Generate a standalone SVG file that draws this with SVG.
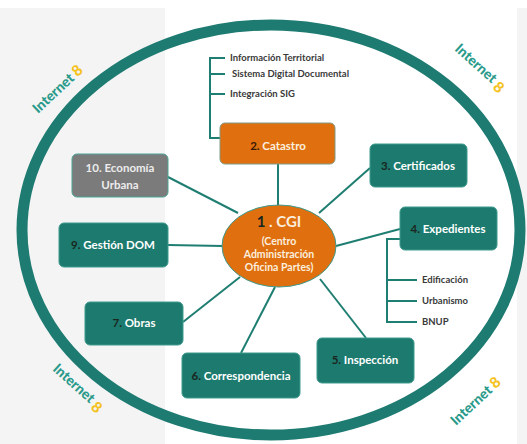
<svg xmlns="http://www.w3.org/2000/svg" width="527" height="444" viewBox="0 0 527 444">
  <defs>
    <style>
      .box { fill: #1c7a6e; stroke: #3f9a8d; stroke-width: 1; }
      .lbl { font-family: Lato, "Liberation Sans", sans-serif; font-weight: bold; font-size: 11.5px; fill: #ffffff; text-anchor: middle; }
      .num { fill: #1b2620; }
      .sub { font-family: Lato, "Liberation Sans", sans-serif; font-weight: bold; font-size: 9.5px; fill: #3a3a3a; }
      .link { stroke: #1f7e72; stroke-width: 2; fill: none; }
      .net { font-family: Lato, "Liberation Sans", sans-serif; font-weight: 900; font-size: 14px; fill: #2a9a8b; }
      .eight { fill: #f4c21f; font-size: 15px; }
    </style>
  </defs>

  <!-- backdrop -->
  <rect x="0" y="0" width="527" height="444" fill="#ffffff"/>
  <rect x="0" y="8" width="165" height="436" fill="#f4f4f4"/>
  <rect x="517" y="8" width="10" height="436" fill="#f4f4f4"/>

  <!-- network ring -->
  <ellipse id="ring" cx="271" cy="230" rx="249" ry="205" fill="none" stroke="#1d7b71" stroke-width="11"/>

  <!-- Internet labels along the ring -->
  <g id="internet-labels">
    <text class="net" transform="translate(38,114) rotate(-43)">Internet <tspan class="eight">8</tspan></text>
    <text class="net" transform="translate(454,50) rotate(42)">Internet <tspan class="eight" dy="3">8</tspan></text>
    <text class="net" transform="translate(52,370) rotate(42)">Internet <tspan class="eight" dy="3">8</tspan></text>
    <text class="net" transform="translate(456,426) rotate(-43)">Internet <tspan class="eight">8</tspan></text>
  </g>

  <!-- connectors -->
  <g id="connectors">
    <line class="link" x1="278" y1="164" x2="278" y2="206"/>
    <line class="link" x1="319" y1="213" x2="370" y2="168"/>
    <line class="link" x1="336" y1="246" x2="400" y2="229"/>
    <line class="link" x1="320" y1="279" x2="366" y2="338"/>
    <line class="link" x1="275" y1="287" x2="241" y2="353"/>
    <line class="link" x1="240" y1="277" x2="183" y2="322"/>
    <line class="link" x1="168" y1="245" x2="223" y2="246"/>
    <line class="link" x1="168" y1="177" x2="238" y2="213"/>
    <!-- Catastro sub-items -->
    <path class="link" d="M220,138 H210 V58 H225 M210,74 H225 M210,94 H225"/>
    <!-- Expedientes sub-items -->
    <path class="link" d="M400,239 H387 V322 H417 M387,280 H417 M387,301 H417"/>
  </g>

  <!-- sub-item labels -->
  <g id="catastro-items">
    <text class="sub" x="230" y="61">Información Territorial</text>
    <text class="sub" x="232" y="77">Sistema Digital Documental</text>
    <text class="sub" x="230" y="97">Integración SIG</text>
  </g>
  <g id="expedientes-items">
    <text class="sub" x="422" y="283">Edificación</text>
    <text class="sub" x="422" y="304">Urbanismo</text>
    <text class="sub" x="422" y="325">BNUP</text>
  </g>

  <!-- central node -->
  <g id="cgi">
    <ellipse cx="279" cy="246" rx="57" ry="41" fill="#e0700f" stroke="#3f9a8d" stroke-width="1"/>
    <text class="lbl" x="279" y="227" style="font-size:15px; fill:#fbeede"><tspan class="num">1</tspan> . CGI</text>
    <text class="lbl" x="279" y="245" style="font-size:10.5px; fill:#fbeede">(Centro</text>
    <text class="lbl" x="279" y="258" style="font-size:10.5px; fill:#fbeede">Administración</text>
    <text class="lbl" x="279" y="271" style="font-size:10.5px; fill:#fbeede">Oficina Partes)</text>
  </g>

  <g id="catastro">
    <rect x="220" y="123" width="115" height="41" rx="5" fill="#e0700f" stroke="#7f9a86" stroke-width="1"/>
    <text class="lbl" x="278" y="150" style="fill:#fbeede"><tspan class="num" style="fill:#3a1a05">2.</tspan> Catastro</text>
  </g>

  <g id="certificados">
    <rect class="box" x="370" y="144" width="97" height="43" rx="5"/>
    <text class="lbl" x="418" y="170"><tspan class="num">3.</tspan> Certificados</text>
  </g>

  <g id="expedientes">
    <rect class="box" x="400" y="207" width="97" height="43" rx="5"/>
    <text class="lbl" x="448" y="233"><tspan class="num">4.</tspan> Expedientes</text>
  </g>

  <g id="inspeccion">
    <rect class="box" x="317" y="338" width="97" height="45" rx="5"/>
    <text class="lbl" x="365" y="364"><tspan class="num">5.</tspan> Inspección</text>
  </g>

  <g id="correspondencia">
    <rect class="box" x="182" y="353" width="118" height="45" rx="5"/>
    <text class="lbl" x="241" y="380"><tspan class="num">6.</tspan> Correspondencia</text>
  </g>

  <g id="obras">
    <rect class="box" x="85" y="302" width="98" height="43" rx="5"/>
    <text class="lbl" x="134" y="327"><tspan class="num">7.</tspan> Obras</text>
  </g>

  <g id="gestion-dom">
    <rect class="box" x="59" y="223" width="109" height="44" rx="5"/>
    <text class="lbl" x="113" y="249"><tspan class="num">9.</tspan> Gestión DOM</text>
  </g>

  <g id="economia-urbana">
    <rect x="72" y="154" width="96" height="43" rx="5" fill="#7b7b7b" stroke="#4fa597" stroke-width="1"/>
    <text class="lbl" x="120" y="172" style="fill:#ececec">10. Economía</text>
    <text class="lbl" x="120" y="189" style="fill:#ececec">Urbana</text>
  </g>
</svg>
